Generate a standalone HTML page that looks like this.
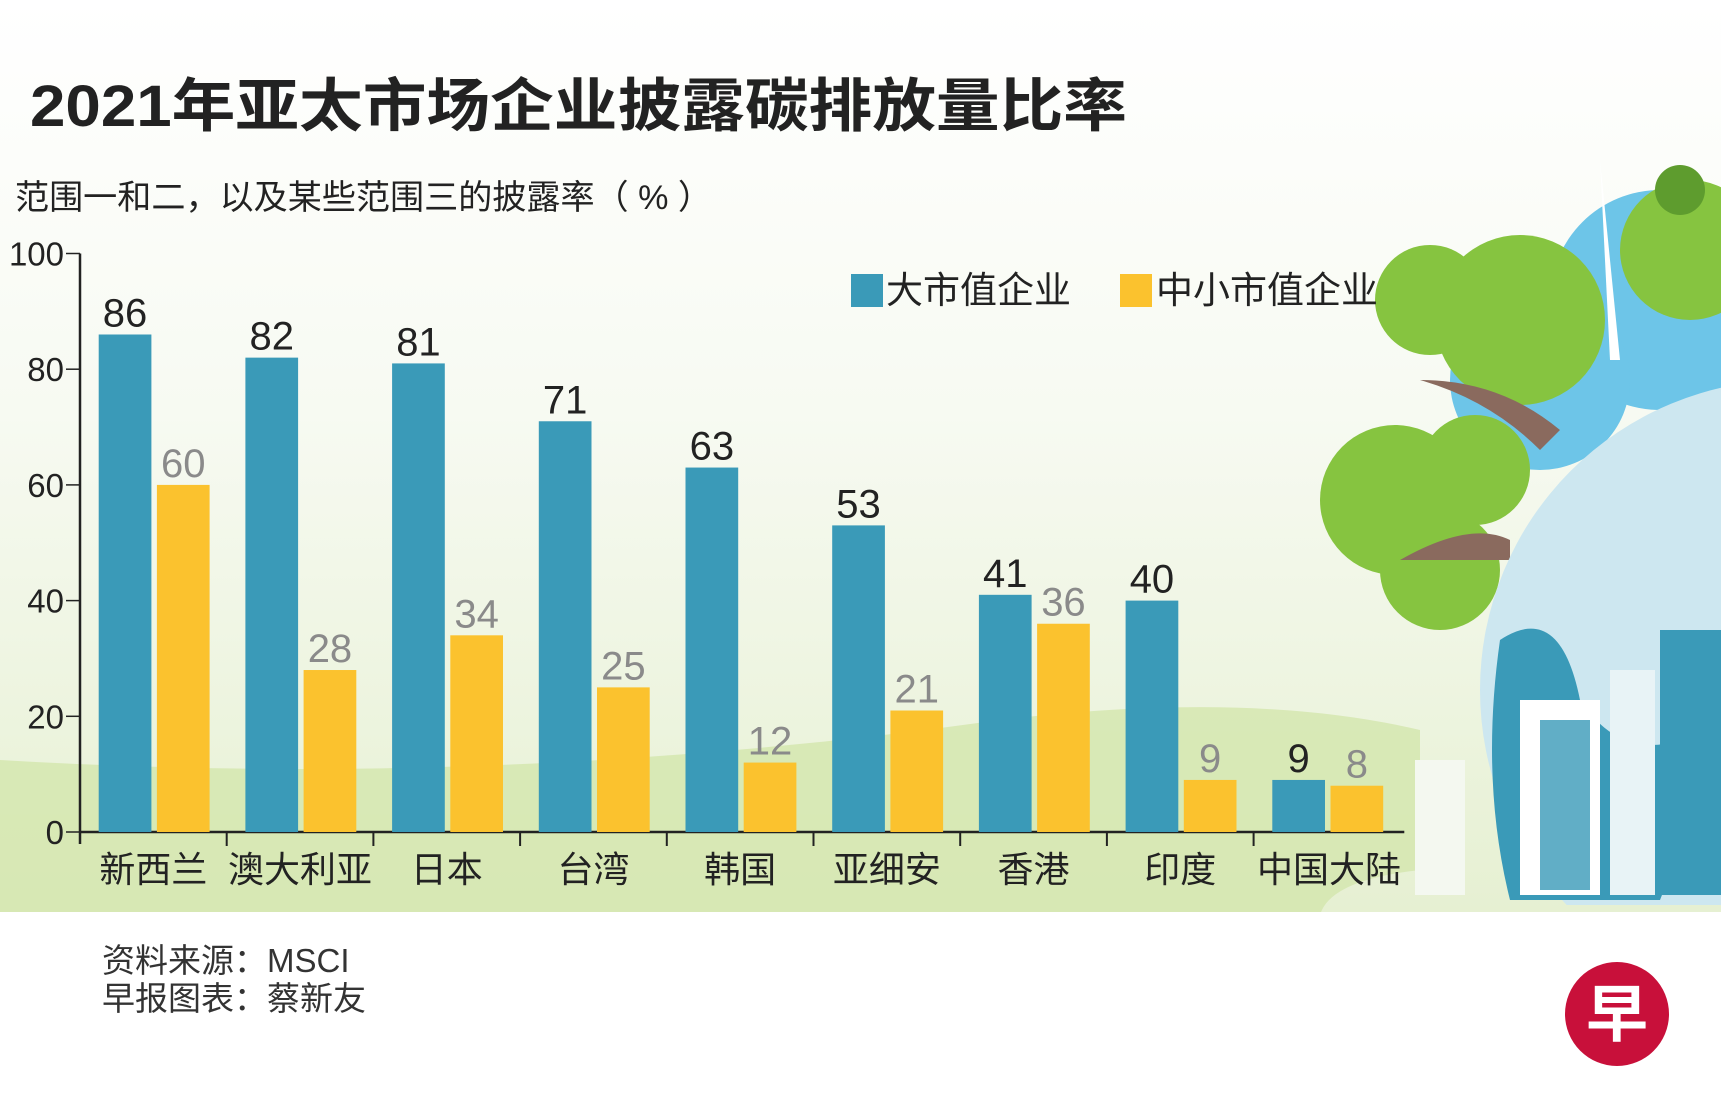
<!DOCTYPE html>
<html><head><meta charset="utf-8">
<style>
html,body{margin:0;padding:0}
body{width:1721px;height:1115px;overflow:hidden;background:#fff;font-family:"Liberation Sans","Noto Sans CJK SC",sans-serif}
</style></head>
<body>
<svg width="1721" height="1115" viewBox="0 0 1721 1115" xmlns="http://www.w3.org/2000/svg" font-family="Liberation Sans, Noto Sans CJK SC, sans-serif">
<defs>
<linearGradient id="bg" x1="0" y1="0" x2="0" y2="1">
<stop offset="0" stop-color="#ffffff"/><stop offset="0.45" stop-color="#f7faf2"/><stop offset="1" stop-color="#e6f0d2"/>
</linearGradient>
<clipPath id="top"><rect x="0" y="0" width="1721" height="905"/></clipPath>
</defs>
<rect x="0" y="0" width="1721" height="915" fill="url(#bg)"/>
<path d="M0 760 Q500 790 1000 720 Q1250 690 1420 730 L1420 870 Q1330 880 1320 915 L0 915 Z" fill="#d3e6ad" opacity="0.8"/>
<rect x="0" y="912" width="1721" height="203" fill="#fff"/>
<g clip-path="url(#top)">
<circle cx="1660" cy="300" r="110" fill="#6dc5e8"/>
<circle cx="1540" cy="380" r="90" fill="#6dc5e8"/>
<circle cx="1520" cy="320" r="85" fill="#86c440"/>
<circle cx="1430" cy="300" r="55" fill="#86c440"/>
<circle cx="1690" cy="250" r="70" fill="#86c440"/>
<circle cx="1680" cy="190" r="25" fill="#5e9c2e"/>
<circle cx="1395" cy="500" r="75" fill="#86c440"/>
<circle cx="1440" cy="570" r="60" fill="#86c440"/>
<circle cx="1475" cy="470" r="55" fill="#86c440"/>
<path d="M1400 560 Q1470 520 1510 540 L1510 560 Z" fill="#8a6a5e"/>
<path d="M1420 380 Q1500 380 1560 430 L1540 450 Q1490 400 1420 380Z" fill="#8a6a5e"/>
<path d="M1600 160 L1610 360 L1620 360 Z" fill="#fff"/>
<circle cx="1790" cy="690" r="310" fill="#cde7f0"/>
<path d="M1500 640 Q1560 600 1580 700 Q1620 760 1680 740 Q1700 800 1660 900 L1510 900 Q1480 780 1500 640Z" fill="#3a9ab8"/>
<rect x="1415" y="760" width="50" height="135" fill="#f4f8f0"/>
<rect x="1520" y="700" width="80" height="195" fill="#fff"/>
<rect x="1540" y="720" width="50" height="170" fill="#3a9ab8" opacity="0.8"/>
<rect x="1660" y="630" width="61" height="265" fill="#3a9ab8"/>
<rect x="1610" y="670" width="45" height="225" fill="#e8f3f6"/>
</g>
<text x="30" y="126" font-size="58" font-weight="bold" fill="#222" textLength="1097" lengthAdjust="spacingAndGlyphs">2021年亚太市场企业披露碳排放量比率</text>
<text x="15" y="209" font-size="34" fill="#222" textLength="697" lengthAdjust="spacingAndGlyphs">范围一和二，以及某些范围三的披露率（ % ）</text>
<g>
<rect x="851" y="274" width="32" height="33" fill="#3a9ab8"/>
<text x="886" y="303" font-size="37" fill="#222">大市值企业</text>
<rect x="1120" y="274" width="32" height="33" fill="#fbc22e"/>
<text x="1156" y="303" font-size="37" fill="#222">中小市值企业</text>
</g>
<g id="plot"></g>
<text x="102" y="972" font-size="33" fill="#333">资料来源：MSCI</text>
<text x="102" y="1010" font-size="33" fill="#333">早报图表：蔡新友</text>
<g>
<circle cx="1617" cy="1014" r="52" fill="#c8103a"/>
<text x="1617" y="1036" font-size="62" font-weight="bold" fill="#fff" text-anchor="middle">早</text>
</g>
</svg>
<script>
const categories=["新西兰","澳大利亚","日本","台湾","韩国","亚细安","香港","印度","中国大陆"];
const largeCap=[86,82,81,71,63,53,41,40,9];
const smallCap=[60,28,34,25,12,21,36,9,8];
const yTicks=[0,20,40,60,80,100];
const NS="http://www.w3.org/2000/svg";
const plot=document.getElementById('plot');
const x0=80,groupW=146.7,y0=832,y100=253.5;
const yScale=v=>y0-(v/100)*(y0-y100);
function mk(tag,attrs,parent){const e=document.createElementNS(NS,tag);for(const k in attrs)e.setAttribute(k,attrs[k]);(parent||plot).appendChild(e);return e;}
let ax=mk('line',{x1:x0,y1:y100,x2:x0,y2:y0+12,stroke:'#222','stroke-width':2.5});


let bx=mk('line',{x1:x0,y1:y0,x2:x0+groupW*categories.length+4,y2:y0,stroke:'#222','stroke-width':2.5});


yTicks.forEach(t=>{
  const y=yScale(t);
  const l=mk('line',{x1:x0-14,y1:y,x2:x0,y2:y,stroke:'#222','stroke-width':1.5});
  
  
  const tx=mk('text',{x:x0-16,y:y+12,'font-size':33,'text-anchor':'end',fill:'#222'});
  tx.textContent=t;
  
  
});
categories.forEach((c,i)=>{
  const gx=x0+i*groupW;
  if(i>0){const tk=mk('line',{x1:gx,y1:y0,x2:gx,y2:y0+14,stroke:'#222','stroke-width':2});
    
    }
  const bw=52.7;
  const bxp=gx+18.7, sxp=bxp+bw+5.5;
  const b=mk('rect',{x:bxp,y:yScale(largeCap[i]),width:bw,height:y0-yScale(largeCap[i]),fill:'#3a9ab8'});
  
  
  const s=mk('rect',{x:sxp,y:yScale(smallCap[i]),width:bw,height:y0-yScale(smallCap[i]),fill:'#fbc22e'});
  
  
  const lt=mk('text',{x:bxp+bw/2,y:yScale(largeCap[i])-8,'font-size':40,'text-anchor':'middle',fill:'#222'});
  lt.textContent=largeCap[i];
  
  
  const st=mk('text',{x:sxp+bw/2,y:yScale(smallCap[i])-8,'font-size':40,'text-anchor':'middle',fill:'#8a8a8a'});
  st.textContent=smallCap[i];
  
  
  const ct=mk('text',{x:gx+groupW/2+(i==8?2:0),y:882,'font-size':36,'text-anchor':'middle',fill:'#222'});
  ct.textContent=c;
  
  
});
</script>
</body></html>
